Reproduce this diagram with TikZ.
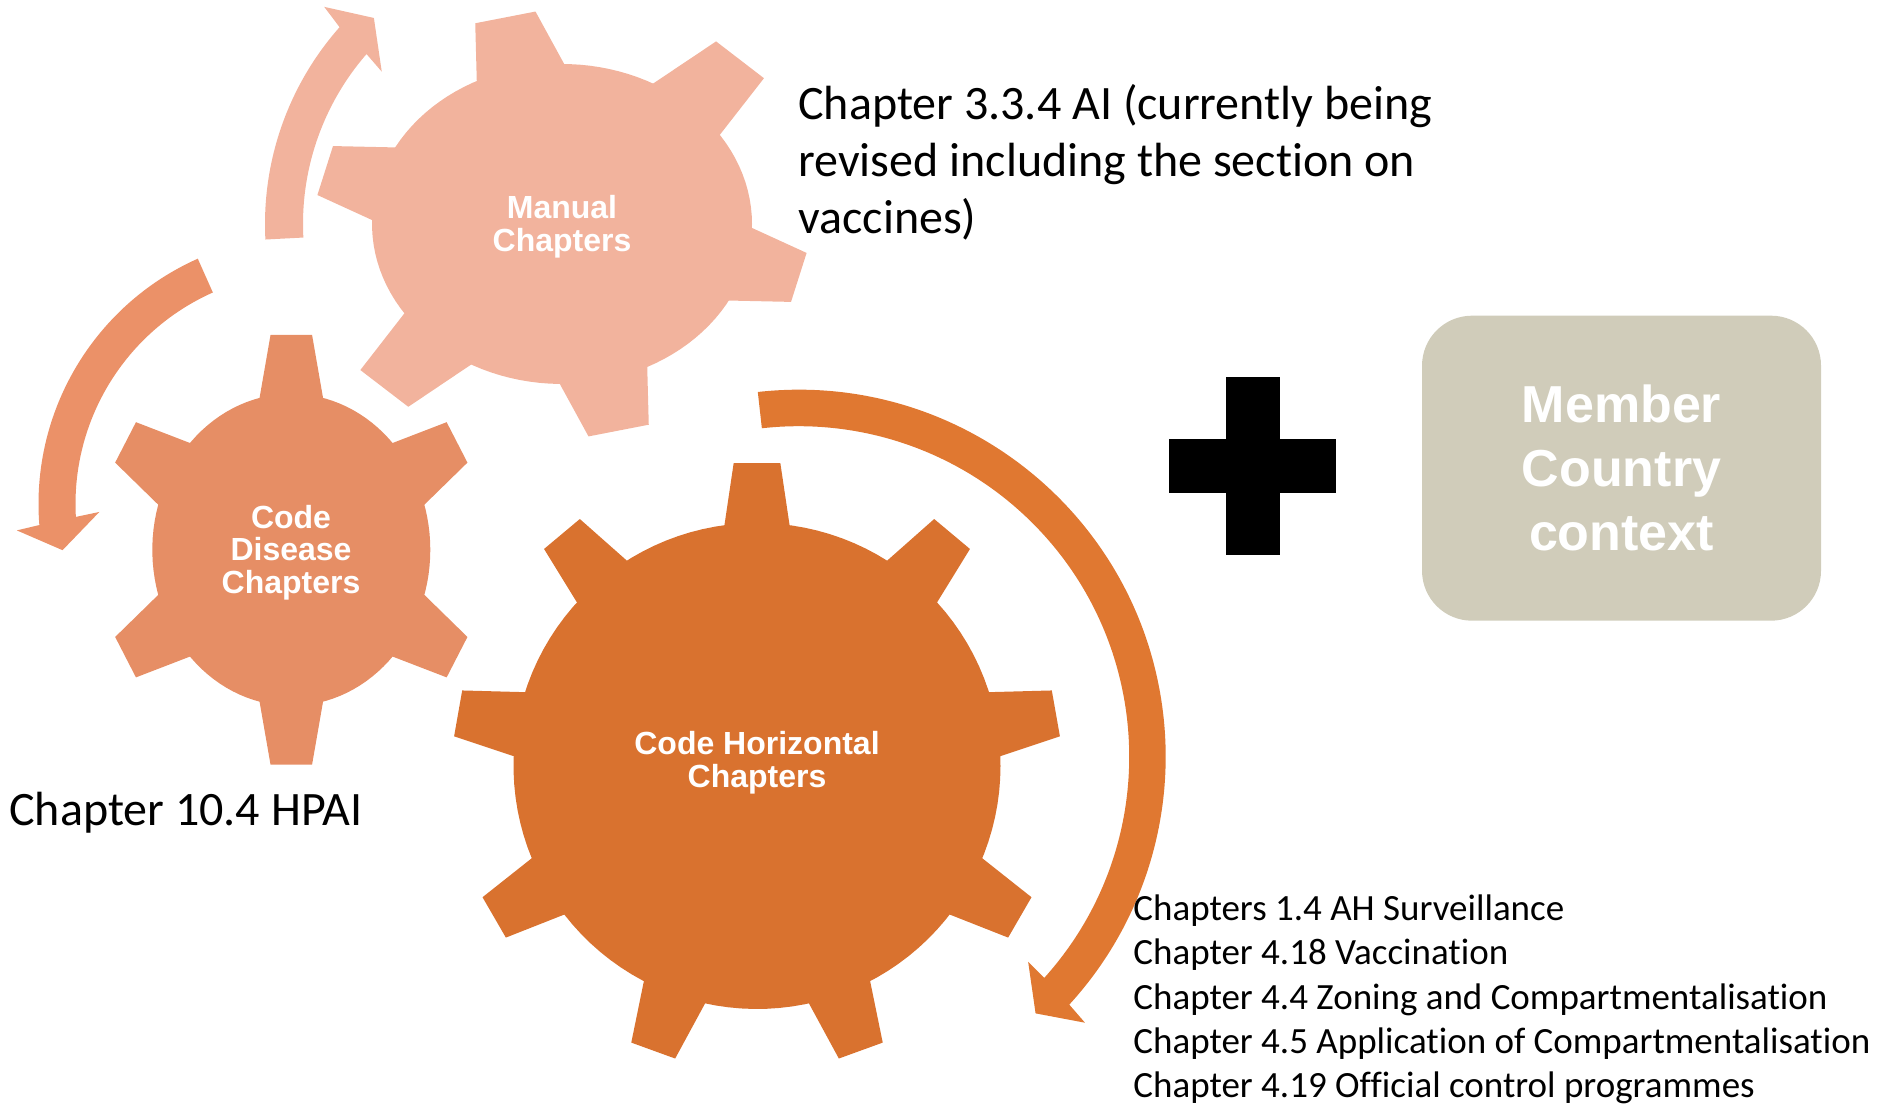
\documentclass[tikz,border=0pt]{standalone}
\usepackage{fontspec}
\setmainfont{Carlito}[Ligatures=NoCommon]
\newfontfamily\arialfont{Liberation Sans}
\definecolor{manualc}{RGB}{242,179,157}
\definecolor{diseasec}{RGB}{230,142,101}
\definecolor{horizc}{RGB}{217,114,47}
\definecolor{arrowleftc}{RGB}{235,145,104}
\definecolor{arrowbigc}{RGB}{224,120,49}
\definecolor{memberc}{RGB}{208,204,186}
\begin{document}
\begin{tikzpicture}[line cap=butt,line join=miter,x=0.5pt,y=0.5pt]
	\tikzset{gearlabel/.style={text=white,inner sep=0pt,align=center,
			font=\arialfont\bfseries\fontsize{16}{16.3}\selectfont},
		note/.style={anchor=base west,inner sep=0pt,align=left,
			font=\fontsize{24}{28.5}\selectfont},
		listnote/.style={note,font=\fontsize{18.5}{22.2}\selectfont},
		memberbox/.style={fill=memberc,rounded corners=25pt,minimum width=199.5pt,
			minimum height=152.5pt,text=white,align=center,inner sep=0pt,
			font=\arialfont\bfseries\fontsize{26}{31.9}\selectfont}}
	\useasboundingbox (0,0) rectangle (1882,1106);
	\def\gearshape#1#2#3#4{% colour, teeth (angle/tip radius), tip and base half angle
		\fill[#1] plot[domain=0:360,samples=120] ({cos(\x)},{sin(\x)}) -- cycle;
		\foreach \a/\r in {#2}
		\fill[#1] (\a-#4:0.97) -- (\a-#3:\r) -- (\a+#3:\r) -- (\a+#4:0.97) -- cycle;}
	%--------- Circular arrows
	\begin{scope}[shift={(562,882)}]
		\fill[manualc] (183:297) arc[start angle=183,end angle=138.5,radius=148.5pt]
		-- (137.6:322) -- (132.4:279) -- (139.8:236) -- (139:259)
		arc[start angle=139,end angle=183,radius=129.5pt] -- cycle;
	\end{scope}
	\begin{scope}[shift={(307,602)}]
		\fill[arrowleftc] (114:268.5) arc[start angle=114,end angle=184.5,radius=134.25pt]
		-- (185.2:291.4) -- (190.7:248.8) -- (182.2:207.8) -- (183.2:231.5)
		arc[start angle=183.2,end angle=114,radius=115.75pt] -- cycle;
	\end{scope}
	\begin{scope}[shift={(798.7,349.3)}]
		\fill[arrowbigc] (96.4:367) arc[start angle=96.4,end angle=-42.5,radius=183.5pt]
		-- (-42.9:390.8) -- (-47.3:349.3) -- (-41.8:307.8) -- (-42:330.5)
		arc[start angle=-42,end angle=96.4,radius=165.25pt] -- cycle;
	\end{scope}
	%--------- Gears
	\begin{scope}[shift={(562,882)},x=95pt,y=80pt]
		\gearshape{manualc}{103/1.335,47.6/1.40,-15/1.30,-77/1.335,-132.3/1.40,165/1.30}{7}{14.5}
	\end{scope}
	\begin{scope}[shift={(291.3,556.2)},x=69.5pt,y=78pt]
		\gearshape{diseasec}{90/1.385,30/1.385,-30/1.385,-90/1.385,-150/1.385,150/1.385}{6.2}{14}
	\end{scope}
	\begin{scope}[shift={(757,340)},x=121.75pt,y=121.5pt]
		\gearshape{horizc}{90/1.25,50/1.25,10/1.25,-30/1.25,-70/1.25,-110/1.25,-150/1.25,-190/1.25,130/1.25}{4.4}{8.2}
	\end{scope}
	\node[gearlabel] (manual) at (562,879.5) {Manual\\Chapters};
	\node[gearlabel] (disease) at (291,553.5) {Code\\Disease\\Chapters};
	\node[gearlabel] (horizontal) at (757,343) {Code Horizontal\\Chapters};
	%--------- Plus and member box
	\fill (1226,551) rectangle (1280,729);
	\fill (1169,613.3) rectangle (1335.5,666.7);
	\node[memberbox] (member) at (1621.5,637.8) {Member\\Country\\context};
	%--------- Notes
	\node[note] (manualnote) at (798,872.8) {Chapter 3.3.4 AI (currently being\\revised including the section on\\vaccines)};
	\node[note] (diseasenote) at (9,280.3) {Chapter 10.4 HPAI};
	\node[listnote] (horiznote) at (1133,8.1) {Chapters 1.4 AH Surveillance\\Chapter 4.18 Vaccination\\Chapter 4.4 Zoning and Compartmentalisation\\Chapter 4.5 Application of Compartmentalisation\\Chapter 4.19 Official control programmes};
\end{tikzpicture}
\end{document}
